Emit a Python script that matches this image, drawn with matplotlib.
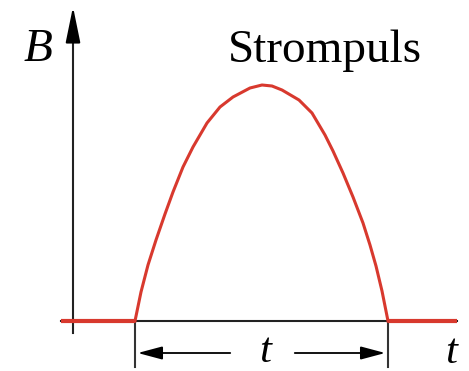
import matplotlib.pyplot as plt

# pulse shape (t = time, B = field), origin at axis crossing
t_curve = [60, 66, 73, 81, 90, 98, 108, 118, 132, 145, 158, 175, 187, 197,
           207, 224, 237, 250, 258, 268, 278, 288, 295, 301, 307, 313]
B_curve = [0, 29, 56, 81, 107, 129, 154, 174, 198, 214, 224, 233, 236, 235,
           231, 221, 208, 186, 170, 148, 124, 98, 76, 55, 30, 0]

t_start = 60
t_end = 313
t_before = -14
t_after = 382

red = '#d8392e'
serif = ['Liberation Serif', 'DejaVu Serif']

fig = plt.figure(figsize=(4.69, 3.71), dpi=100)
ax = fig.add_axes([0, 0, 1, 1])
ax.set_xlim(-75, 394)
ax.set_ylim(-50, 321)
ax.axis('off')

# axes with arrow heads
ax.plot([t_before, 382], [0, 0], color='#222222', lw=1.5, zorder=2)
ax.annotate('', xy=(395, 0), xytext=(370, 0),
            arrowprops=dict(arrowstyle='-|>,head_length=1.3,head_width=0.45',
                            color='black', lw=1.5, mutation_scale=10))
ax.plot([-2, -2], [-12, 290], color='#222222', lw=1.5, zorder=2)
ax.annotate('', xy=(-2, 317), xytext=(-2, 280),
            arrowprops=dict(arrowstyle='-|>,head_length=2.2,head_width=0.45',
                            color='black', lw=1.5, mutation_scale=10))

# red signal: flat, pulse, flat
ax.plot([t_before, t_start], [0, 0], color=red, lw=3, zorder=3, solid_capstyle='butt')
ax.plot([t_end, t_after], [0, 0], color=red, lw=3, zorder=3, solid_capstyle='butt')
ax.plot(t_curve, B_curve, color=red, lw=2.2, zorder=3, solid_joinstyle='round')

# pulse width marker
ax.plot([t_start, t_start], [0, -46], color='#333333', lw=1.5)
ax.plot([t_end, t_end], [0, -46], color='#333333', lw=1.5)
ax.annotate('', xy=(t_start, -32), xytext=(158, -32),
            arrowprops=dict(arrowstyle='-|>,head_length=1.5,head_width=0.4',
                            color='black', lw=1.3, mutation_scale=10))
ax.annotate('', xy=(t_end, -32), xytext=(217, -32),
            arrowprops=dict(arrowstyle='-|>,head_length=1.5,head_width=0.4',
                            color='black', lw=1.3, mutation_scale=10))

ax.text(190, -31, 't', fontsize=31, fontstyle='italic', family=serif, ha='center', va='center')
ax.text(376, -32, 't', fontsize=31, fontstyle='italic', family=serif, ha='center', va='center')
ax.text(-37, 271, 'B', fontsize=34, fontstyle='italic', family=serif, ha='center', va='center')
ax.text(153, 259, 'Strompuls', fontsize=34, family=serif, ha='left', va='baseline')

fig.savefig('out.png', dpi=100)
